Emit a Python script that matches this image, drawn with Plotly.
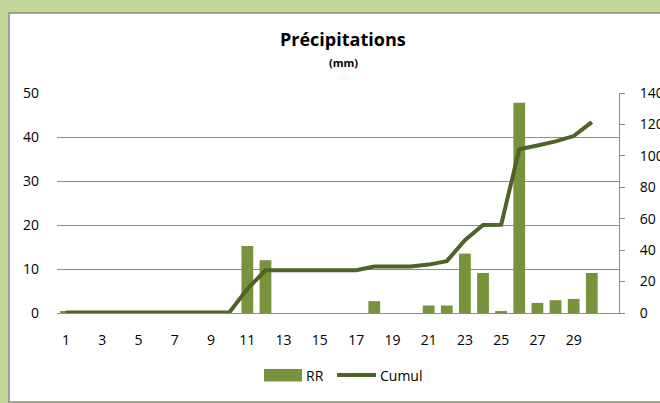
import plotly.graph_objects as go

days = list(range(1, 32))
rr = [0.3, 0, 0, 0, 0, 0, 0, 0, 0, 0,
      15.2, 12.0, 0, 0, 0, 0, 0, 2.7, 0, 0,
      1.7, 1.7, 13.5, 9.1, 0.45, 47.8, 2.3, 2.9, 3.2, 9.1, None]
cumul = [0.3, 0.3, 0.3, 0.3, 0.3, 0.3, 0.3, 0.3, 0.3, 0.3,
         15.3, 27.2, 27.2, 27.2, 27.2, 27.2, 27.2, 29.6, 29.6, 29.6,
         30.8, 33.0, 46.4, 56.0, 56.2, 104.2, 106.6, 109.2, 112.6, 121.5, None]
x_ticks = list(range(1, 30, 2))
left_ticks = [0, 10, 20, 30, 40, 50]
right_ticks = [0, 20, 40, 60, 80, 100, 120, 140]

BAR = "#77933c"
LINE = "#4f6228"
GRID = "#8c8c8c"
FONT = "Open Sans"

# plot area in pixels
L, R, T, B = 57, 619, 93, 313
W, H = 660, 403
def px(xp):
    return (xp - L) / (R - L)
def py(yp):
    return (B - yp) / (B - T)

fig = go.Figure()
fig.add_trace(go.Bar(x=days, y=rr, name="RR", marker=dict(color=BAR, line=dict(width=0)),
                     yaxis="y", showlegend=False))
fig.add_trace(go.Scatter(x=days, y=cumul, name="Cumul", mode="lines",
                         line=dict(color=LINE, width=4), yaxis="y2", showlegend=False))

shapes = [
    dict(type="rect", xref="paper", yref="paper", x0=px(9), x1=px(720), y0=py(402), y1=py(13),
         fillcolor="white", line=dict(color="#8a8a8a", width=1.5), layer="below"),
    # legend symbols
    dict(type="rect", xref="paper", yref="paper", x0=px(264), x1=px(302), y0=py(381.5), y1=py(369),
         fillcolor=BAR, line=dict(width=0)),
    dict(type="line", xref="paper", yref="paper", x0=px(337), x1=px(376), y0=py(375), y1=py(375),
         line=dict(color=LINE, width=4)),
]
annotations = [
    dict(text="<b>Précipitations</b>", xref="paper", yref="paper", x=px(343), y=py(39),
         showarrow=False, font=dict(family=FONT, size=18, color="black"), xanchor="center", yanchor="middle"),
    dict(text="<b>(mm)</b>", xref="paper", yref="paper", x=px(343), y=py(62),
         showarrow=False, font=dict(family=FONT, size=11, color="black"), xanchor="center", yanchor="middle"),
    dict(text="RR", xref="paper", yref="paper", x=px(304), y=py(375),
         showarrow=False, font=dict(family=FONT, size=14, color="black"), xanchor="left", yanchor="middle"),
    dict(text="Cumul", xref="paper", yref="paper", x=px(378), y=py(375),
         showarrow=False, font=dict(family=FONT, size=14, color="black"), xanchor="left", yanchor="middle"),
]

fig.update_layout(
    width=W, height=H,
    margin=dict(l=L, r=W - R, t=T, b=H - B, pad=0, autoexpand=False),
    paper_bgcolor="#c4d79b",
    plot_bgcolor="rgba(0,0,0,0)",
    bargap=0.35,
    font=dict(family=FONT, size=14, color="black"),
    shapes=shapes,
    annotations=annotations,
    xaxis=dict(range=[0.5, 31.5], tickvals=x_ticks, ticktext=[str(v) for v in x_ticks],
               showgrid=False, zeroline=False, showline=True, linecolor=GRID, linewidth=1,
               ticks="", ticklabelstandoff=14, tickfont=dict(size=14), automargin=False),
    yaxis=dict(range=[0, 50], tickvals=left_ticks, showgrid=True, gridcolor=GRID, gridwidth=1,
               zeroline=False, showline=False, ticks="", ticklabelstandoff=17, tickfont=dict(size=14),
               automargin=False),
    yaxis2=dict(range=[0, 140], tickvals=right_ticks, overlaying="y", side="right",
                showgrid=False, zeroline=False, showline=True, linecolor=GRID, linewidth=1,
                ticks="outside", ticklen=5, tickcolor=GRID, ticklabelstandoff=12, tickfont=dict(size=14),
                automargin=False),
)

fig.write_html("out.html", config={"displayModeBar": False},
               post_script="document.body.style.margin='0px';document.body.style.overflow='hidden';")
